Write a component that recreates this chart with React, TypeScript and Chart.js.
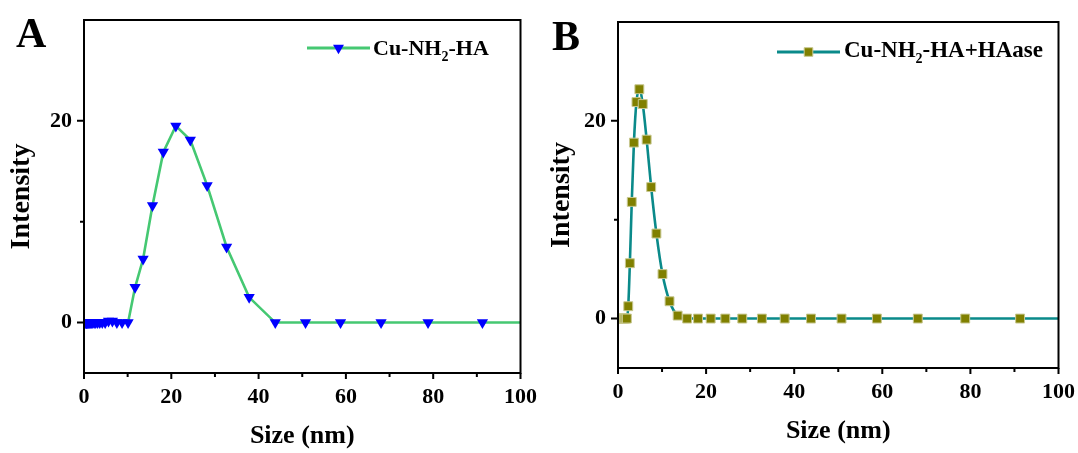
import React, { useEffect, useRef } from 'react';
import { Chart, registerables } from 'chart.js';

Chart.register(...registerables);

// DLS size bins (nm)
const sizes = [
  0.4, 0.4632, 0.5365, 0.6213, 0.7195, 0.8332, 0.9649, 1.117, 1.294, 1.499, 1.736, 2.01, 2.328,
  2.696, 3.122, 3.615, 4.187, 4.849, 5.615, 6.503, 7.531, 8.721, 10.1, 11.7, 13.54, 15.69, 18.17,
  21.04, 24.36, 28.21, 32.67, 37.84, 43.82, 50.75, 58.77, 68.06, 78.82, 91.28, 105.7,
];

// Panel A: Cu-NH2-HA
const intensityA = [
  0, 0, 0, 0, 0, 0, 0, 0, 0, 0, 0, 0, 0,
  0, 0, 0, 0, 0, 0.15, 0.15, 0, 0, 0, 3.5, 6.3, 11.6, 16.9,
  19.5, 18.1, 13.6, 7.5, 2.5, 0, 0, 0, 0, 0, 0, 0,
];

// Panel B: Cu-NH2-HA + HAase
const intensityB = [
  0, 0, 0, 0, 0, 0, 0, 0, 0, 0, 0, 0, 1.25,
  5.6, 11.8, 17.8, 21.9, 23.2, 21.7, 18.1, 13.3, 8.6, 4.5, 1.75, 0.3, 0, 0,
  0, 0, 0, 0, 0, 0, 0, 0, 0, 0, 0, 0,
];

const xTicks = [0, 10, 20, 30, 40, 50, 60, 70, 80, 90, 100];
const yTicks = [0, 10, 20];
const xLabelEvery = 20;
const yLabelEvery = 20;
const xRange = [0, 100];
const yRange = [-5, 30];

const legendA = ['Cu-NH', '2', '-HA'];
const legendB = ['Cu-NH', '2', '-HA+HAase'];
const panelLetters = ['A', 'B'];
const xTitle = 'Size (nm)';
const yTitle = 'Intensity';

const FONT = '"Liberation Serif", "Times New Roman", Times, serif';

type Panel = {
  width: number;
  letter: string;
  letterX: number;
  letterY: number;
  letterSize: number;
  values: number[];
  lineColor: string;
  pointColor: string;
  pointBorder: string;
  pointStyle: string;
  pointRotation: number;
  pointRadius: number;
  tension: number;
  legendParts: string[];
  legendLine: [number, number, number];
  legendTextX: number;
  legendBaseline: number;
  legendSize: number;
  padTop: number;
  padRight: number;
  yAxisWidth: number;
  xAxisHeight: number;
  xTitlePad: number;
  name: string;
};

function drawMarker(ctx: CanvasRenderingContext2D, style: string, x: number, y: number, fill: string, border: string) {
  ctx.save();
  ctx.fillStyle = fill;
  ctx.strokeStyle = border;
  ctx.lineWidth = 1;
  ctx.beginPath();
  if (style === 'triangle') {
    const r = 6.3;
    ctx.moveTo(x - r * 0.866, y - r * 0.5);
    ctx.lineTo(x + r * 0.866, y - r * 0.5);
    ctx.lineTo(x, y + r);
    ctx.closePath();
    ctx.fill();
  } else {
    const s = 4.3;
    ctx.rect(x - s, y - s, 2 * s, 2 * s);
    ctx.fill();
    ctx.stroke();
  }
  ctx.restore();
}

function makePlugin(p: Panel) {
  return {
    id: 'originFrame' + p.name,
    afterDraw(chart: any) {
      const ctx: CanvasRenderingContext2D = chart.ctx;
      const { left, right, top, bottom } = chart.chartArea;
      const xs = chart.scales.x;
      const ys = chart.scales.y;
      ctx.save();
      // frame
      ctx.strokeStyle = '#000';
      ctx.lineWidth = 2;
      ctx.strokeRect(left, top, right - left, bottom - top);
      // outward tick marks
      ctx.beginPath();
      xTicks.forEach((v) => {
        const px = xs.getPixelForValue(v);
        const len = v % xLabelEvery === 0 ? 6 : 4;
        ctx.moveTo(px, bottom);
        ctx.lineTo(px, bottom + len);
      });
      yTicks.forEach((v) => {
        const py = ys.getPixelForValue(v);
        const len = v % yLabelEvery === 0 ? 7 : 4;
        ctx.moveTo(left, py);
        ctx.lineTo(left - len, py);
      });
      ctx.stroke();

      // panel letter
      ctx.fillStyle = '#000';
      ctx.font = `bold ${p.letterSize}px ${FONT}`;
      ctx.textAlign = 'left';
      ctx.textBaseline = 'alphabetic';
      ctx.fillText(p.letter, p.letterX, p.letterY);

      // legend
      const [lx0, lx1, ly] = p.legendLine;
      ctx.strokeStyle = p.lineColor;
      ctx.lineWidth = 3;
      ctx.beginPath();
      ctx.moveTo(lx0, ly);
      ctx.lineTo(lx1, ly);
      ctx.stroke();
      drawMarker(ctx, p.pointStyle, (lx0 + lx1) / 2, ly, p.pointColor, p.pointBorder);

      let tx = p.legendTextX;
      ctx.fillStyle = '#000';
      p.legendParts.forEach((part, i) => {
        const sub = i === 1;
        const size = sub ? Math.round(p.legendSize * 0.62) : p.legendSize;
        ctx.font = `bold ${size}px ${FONT}`;
        ctx.fillText(part, tx, p.legendBaseline + (sub ? 6 : 0));
        tx += ctx.measureText(part).width;
      });
      ctx.restore();
    },
  };
}

function makeConfig(p: Panel): any {
  const tickFont = { family: FONT, size: 22, weight: 'bold' as const };
  return {
    type: 'line',
    data: {
      datasets: [
        {
          label: p.legendParts.join(''),
          data: sizes.map((s, i) => ({ x: s, y: p.values[i] })),
          borderColor: p.lineColor,
          borderWidth: 2.6,
          backgroundColor: p.pointColor,
          pointBackgroundColor: p.pointColor,
          pointBorderColor: p.pointBorder,
          pointBorderWidth: p.pointStyle === 'rect' ? 1 : 0,
          pointStyle: p.pointStyle,
          pointRotation: p.pointRotation,
          pointRadius: p.pointRadius,
          tension: p.tension,
          cubicInterpolationMode: p.tension > 0 ? 'monotone' : 'default',
          fill: false,
        },
      ],
    },
    options: {
      responsive: false,
      animation: false,
      devicePixelRatio: 1,
      layout: { padding: { top: p.padTop, right: p.padRight, left: 0, bottom: 0 } },
      plugins: { legend: { display: false }, tooltip: { enabled: false } },
      scales: {
        x: {
          type: 'linear',
          min: xRange[0],
          max: xRange[1],
          afterBuildTicks: (s: any) => {
            s.ticks = xTicks.map((v) => ({ value: v }));
          },
          afterFit: (s: any) => {
            s.height = p.xAxisHeight;
          },
          grid: { display: false },
          border: { display: false },
          ticks: {
            autoSkip: false,
            maxRotation: 0,
            padding: 3,
            color: '#000',
            font: tickFont,
            callback: (v: number) => (v % xLabelEvery === 0 ? String(v) : ''),
          },
          title: {
            display: true,
            text: xTitle,
            color: '#000',
            font: { family: FONT, size: 26, weight: 'bold' },
            padding: { top: 0, bottom: p.xTitlePad },
          },
        },
        y: {
          type: 'linear',
          min: yRange[0],
          max: yRange[1],
          afterBuildTicks: (s: any) => {
            s.ticks = yTicks.map((v) => ({ value: v }));
          },
          afterFit: (s: any) => {
            s.width = p.yAxisWidth;
          },
          grid: { display: false },
          border: { display: false },
          ticks: {
            autoSkip: false,
            padding: 4,
            color: '#000',
            font: tickFont,
            callback: (v: number) => (v % yLabelEvery === 0 ? String(v) : ''),
          },
          title: {
            display: true,
            text: yTitle,
            color: '#000',
            font: { family: FONT, size: 28, weight: 'bold' },
            padding: { top: 5, bottom: 0 },
          },
        },
      },
    },
    plugins: [makePlugin(p)],
  };
}

const panels: Panel[] = [
  {
    name: 'A',
    width: 540,
    letter: panelLetters[0],
    letterX: 16,
    letterY: 47,
    letterSize: 42,
    values: intensityA,
    lineColor: '#45c872',
    pointColor: '#0000ff',
    pointBorder: '#0000ff',
    pointStyle: 'triangle',
    pointRotation: 180,
    pointRadius: 6.5,
    tension: 0,
    legendParts: legendA,
    legendLine: [307, 370, 48],
    legendTextX: 373,
    legendBaseline: 55,
    legendSize: 22,
    padTop: 20,
    padRight: 2,
    yAxisWidth: 84,
    xAxisHeight: 80,
    xTitlePad: 1,
  },
  {
    name: 'B',
    width: 538,
    letter: panelLetters[1],
    letterX: 12,
    letterY: 50,
    letterSize: 42,
    values: intensityB,
    lineColor: '#0a8a8a',
    pointColor: '#808000',
    pointBorder: '#c8c890',
    pointStyle: 'rect',
    pointRotation: 0,
    pointRadius: 6.3,
    tension: 0.3,
    legendParts: legendB,
    legendLine: [237, 300, 52],
    legendTextX: 304,
    legendBaseline: 57,
    legendSize: 23,
    padTop: 22,
    padRight: 2,
    yAxisWidth: 78,
    xAxisHeight: 85,
    xTitlePad: 6,
  },
];

function PanelChart({ p, left }: { p: Panel; left: number }) {
  const ref = useRef<HTMLCanvasElement | null>(null);
  useEffect(() => {
    if (!ref.current) return;
    const chart = new Chart(ref.current, makeConfig(p));
    return () => chart.destroy();
  }, [p]);
  return (
    <canvas
      ref={ref}
      width={p.width}
      height={453}
      style={{ position: 'absolute', left, top: 0, width: p.width, height: 453 }}
    />
  );
}

export default function App() {
  return (
    <div
      style={{
        position: 'absolute',
        left: 0,
        top: 0,
        width: 1078,
        height: 453,
        background: '#fff',
        overflow: 'hidden',
      }}
    >
      <PanelChart p={panels[0]} left={0} />
      <PanelChart p={panels[1]} left={540} />
    </div>
  );
}
